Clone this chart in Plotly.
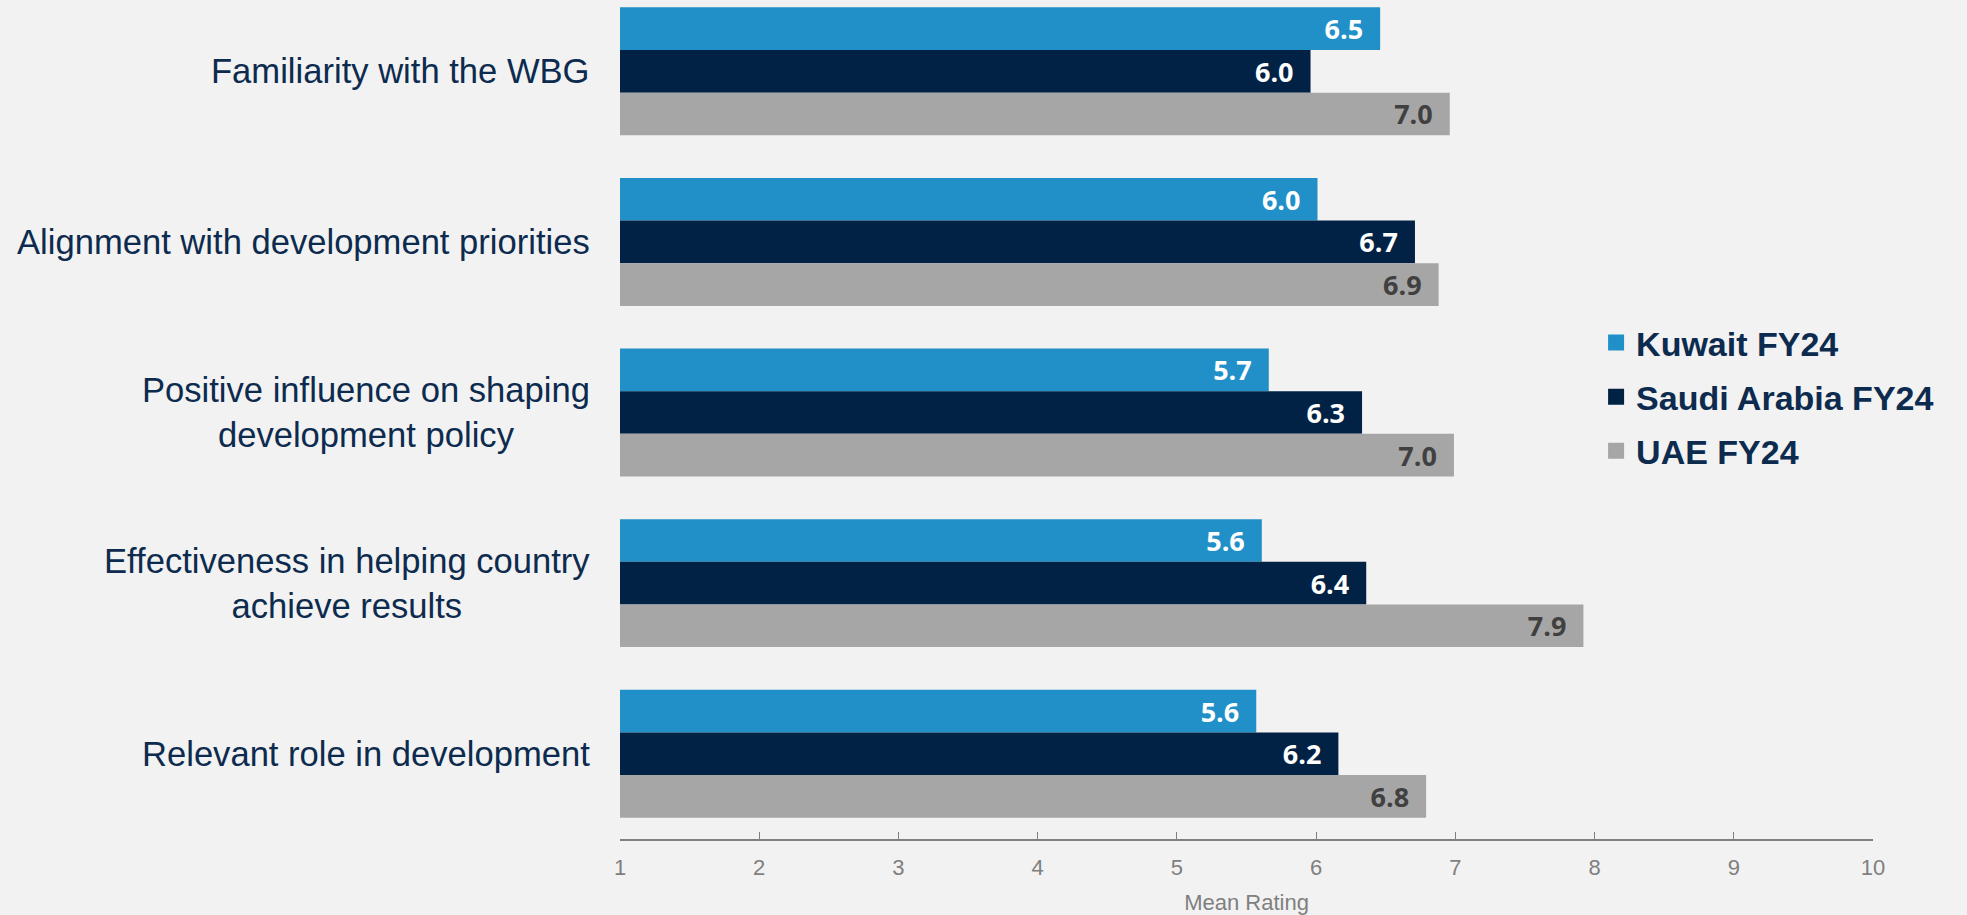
import plotly.graph_objects as go

categories = [
    "Familiarity with the WBG",
    "Alignment with development priorities",
    "Positive influence on shaping<br>development policy",
    "Effectiveness in helping country<br>achieve results",
    "Relevant role in development",
]
series_names = ["Kuwait FY24", "Saudi Arabia FY24", "UAE FY24"]
kuwait = [6.46, 6.01, 5.66, 5.61, 5.57]
saudi = [5.96, 6.71, 6.33, 6.36, 6.16]
uae = [6.96, 6.88, 6.99, 7.92, 6.79]
x_ticks = [1, 2, 3, 4, 5, 6, 7, 8, 9, 10]

colors = ["#2190C8", "#012245", "#A6A6A6"]
text_colors = ["#FFFFFF", "#FFFFFF", "#404040"]
navy = "#0D2B4E"

fig = go.Figure()
for name, vals, c, tc in zip(series_names, [kuwait, saudi, uae], colors, text_colors):
    fig.add_trace(go.Bar(
        y=categories, x=vals, orientation="h", name=name,
        marker=dict(color=c, line=dict(width=0)),
        text=[f"{v:.1f}\u00a0\u00a0" for v in vals], textposition="inside",
        insidetextanchor="end", constraintext="none",
        textfont=dict(family="Open Sans", size=27, color=tc, weight="bold"),
        showlegend=False, hoverinfo="x+name",
    ))
    fig.add_trace(go.Scatter(
        x=[None], y=[None], mode="markers", name=name,
        marker=dict(symbol="square", size=16, color=c),
        legendgroup=name, showlegend=True,
    ))

for cat in categories:
    fig.add_annotation(
        x=0, xref="paper", y=cat, yref="y", text=cat,
        xanchor="right", yanchor="middle", xshift=-28, align="center",
        showarrow=False,
        font=dict(family="Liberation Sans, Arial", size=34.6, color=navy),
    )

fig.update_layout(
    width=1967, height=915,
    paper_bgcolor="#F2F2F2", plot_bgcolor="#F2F2F2",
    margin=dict(l=620, r=94, t=0, b=76),
    barmode="group", bargap=0.25, bargroupgap=0,
    legend=dict(
        x=0.779, xanchor="left", y=0.527, yanchor="middle",
        traceorder="grouped", tracegroupgap=7,
        font=dict(family="Liberation Sans, Arial", size=34, color=navy, weight="bold"),
        bgcolor="rgba(0,0,0,0)",
    ),
    xaxis=dict(
        range=[1, 10], tickvals=x_ticks, showgrid=False, zeroline=False,
        showline=True, linecolor="#808080", linewidth=2,
        ticks="inside", ticklen=7, tickcolor="#808080", tickwidth=1,
        ticklabelstandoff=8,
        tickfont=dict(family="Liberation Sans, Arial", size=22, color="#7F7F7F"),
        title=dict(text="Mean Rating", standoff=17,
                   font=dict(family="Liberation Sans, Arial", size=22, color="#7F7F7F")),
        fixedrange=True,
    ),
    yaxis=dict(
        type="category", range=[4.5, -0.418], showticklabels=False,
        showgrid=False, zeroline=False, showline=False, ticks="",
        fixedrange=True,
    ),
)

fig.write_html(
    "out.html",
    config={"displayModeBar": False},
    post_script="document.body.style.margin='0';document.body.style.overflow='hidden';document.body.style.background='#F2F2F2';",
)
